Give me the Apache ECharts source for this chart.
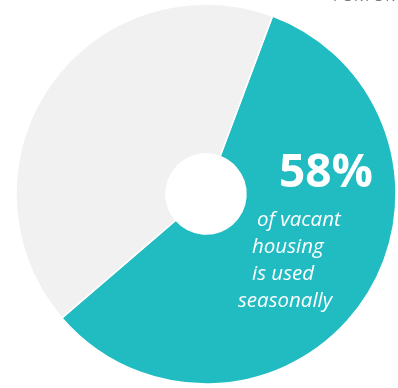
<!DOCTYPE html>
<html>
<head>
<meta charset="utf-8">
<script src="https://cdn.jsdelivr.net/npm/echarts@6/dist/echarts.min.js"></script>
<style>
  html, body { margin: 0; padding: 0; background: #ffffff; }
  #chart { width: 398px; height: 388px; }
</style>
</head>
<body>
<div id="chart"></div>
<script>
// Share of vacant housing by use
const categories = ['Seasonal use', 'Other vacant'];
const shares = [58, 42];
const sliceColors = ['#21bcc2', '#f1f1f1'];
const captionLines = ['of vacant', 'housing', 'is used', 'seasonally'];
const headerText = 'PORT ST.';

const chart = echarts.init(document.getElementById('chart'), null, { renderer: 'canvas' });

// left offsets of the ragged caption lines
const captionX = [257, 252, 252, 238];

const graphic = [
  {
    type: 'text',
    style: {
      x: 333, y: 4,
      text: headerText,
      fill: '#7a7a7a',
      font: '15px "Open Sans", sans-serif',
      textAlign: 'left',
      textVerticalAlign: 'bottom'
    }
  },
  {
    type: 'text',
    z: 10,
    style: {
      x: 279, y: 174,
      text: shares[0] + '%',
      fill: '#ffffff',
      font: 'bold 46px "Open Sans", sans-serif',
      textAlign: 'left',
      textVerticalAlign: 'middle'
    }
  }
];
captionLines.forEach(function (line, i) {
  graphic.push({
    type: 'text',
    z: 10,
    style: {
      x: captionX[i], y: 220 + i * 27,
      text: line,
      fill: '#ffffff',
      font: 'italic 20.5px "Open Sans", sans-serif',
      textAlign: 'left',
      textVerticalAlign: 'middle'
    }
  });
});

chart.setOption({
  animation: false,
  backgroundColor: '#ffffff',
  graphic: graphic,
  series: [{
    type: 'pie',
    center: [206, 194],
    radius: [40, 190],
    startAngle: 69.5,
    clockwise: true,
    avoidLabelOverlap: false,
    label: { show: false },
    labelLine: { show: false },
    emphasis: { disabled: true },
    itemStyle: { borderColor: '#ffffff', borderWidth: 1.5 },
    data: categories.map(function (name, i) {
      return { name: name, value: shares[i], itemStyle: { color: sliceColors[i] } };
    })
  }]
});
</script>
</body>
</html>
